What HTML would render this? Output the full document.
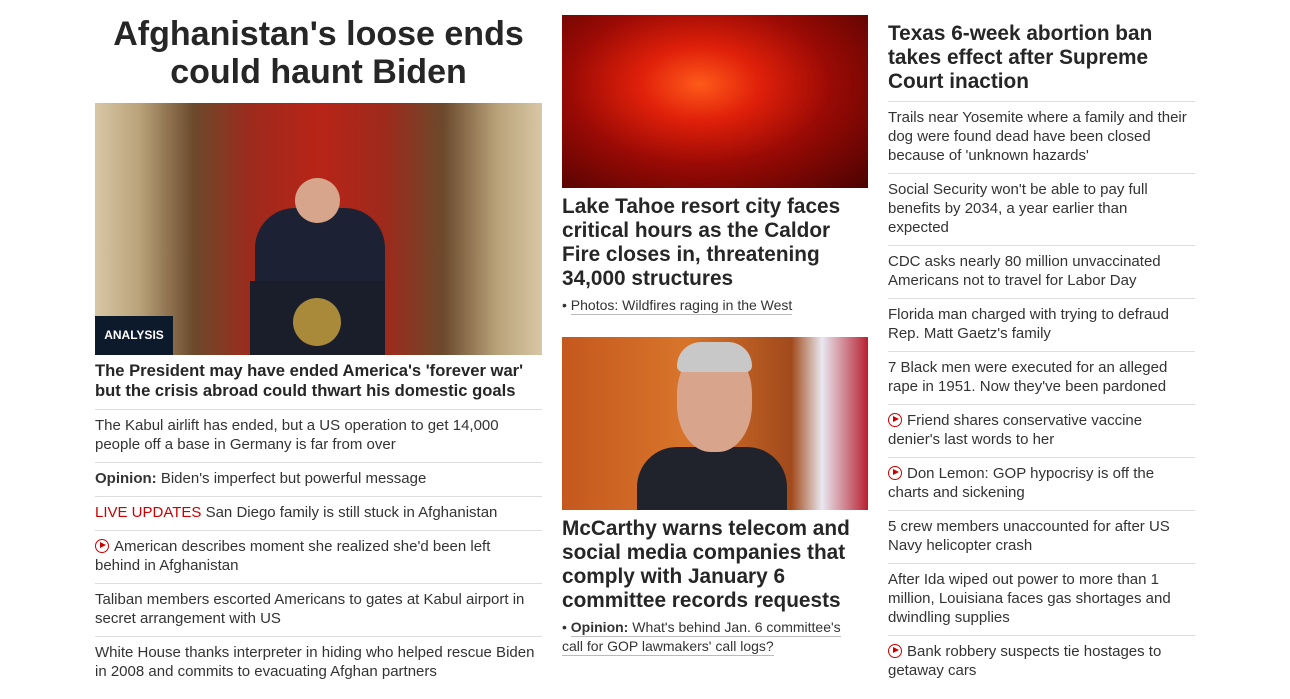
<!DOCTYPE html>
<html><head><meta charset="utf-8"><style>
*{margin:0;padding:0;box-sizing:border-box}
body{width:1290px;height:699px;background:#fff;font-family:"Liberation Sans",sans-serif;color:#262626;position:relative;overflow:hidden}
.a{position:absolute}
.item{position:absolute;font-size:15px;line-height:19px;color:#333;white-space:nowrap}
.sep{position:absolute;height:1px;background:#dedede}
.h{position:absolute;font-weight:bold;font-size:20.8px;line-height:24px;color:#262626;white-space:nowrap}
.play{display:inline-block;width:14px;height:14px;border:1.6px solid #cc0000;border-radius:50%;position:relative;vertical-align:-2px;margin-right:5px}
.play:after{content:"";position:absolute;left:3.5px;top:2px;border-left:6px solid #cc0000;border-top:3.5px solid transparent;border-bottom:3.5px solid transparent}
.u{border-bottom:1px solid #bbb;padding-bottom:1px}
</style></head><body>
<div class="a" style="left:95px;top:15px;width:447px;text-align:center;font-size:34px;font-weight:bold;line-height:38px;color:#262626;white-space:nowrap">Afghanistan's loose ends<br>could haunt Biden</div>
<div class="a" style="left:95px;top:103px;width:447px;height:252px;background:linear-gradient(90deg,#d8c7a5 0,#b9a27a 10%,#6b4a2c 22%,#9d2a1c 35%,#b82418 50%,#9d2a1c 65%,#6b4a2c 78%,#b9a27a 90%,#d8c7a5 100%)">
 <div class="a" style="left:160px;top:105px;width:130px;height:75px;background:#1c2233;border-radius:40px 40px 0 0"></div>
 <div class="a" style="left:200px;top:75px;width:45px;height:45px;background:#d6a58c;border-radius:50%"></div>
 <div class="a" style="left:155px;top:178px;width:135px;height:74px;background:#1a1e2a"></div>
 <div class="a" style="left:198px;top:195px;width:48px;height:48px;border-radius:50%;background:#a88a3a"></div>
</div>
<div class="a" style="left:95px;top:316px;width:78px;height:39px;background:#0c1a2b;color:#fff;font-weight:bold;font-size:12px;line-height:39px;text-align:center">ANALYSIS</div>
<div class="a" style="left:95px;top:361px;width:460px;font-weight:bold;font-size:16.6px;line-height:20px;white-space:nowrap">The President may have ended America's 'forever war'<br>but the crisis abroad could thwart his domestic goals</div>
<div class="sep" style="left:95px;top:409px;width:447px"></div>
<div class="item" style="left:95px;top:416px">The Kabul airlift has ended, but a US operation to get 14,000<br>people off a base in Germany is far from over</div>
<div class="sep" style="left:95px;top:462px;width:447px"></div>
<div class="item" style="left:95px;top:469px"><b>Opinion:</b> Biden's imperfect but powerful message</div>
<div class="sep" style="left:95px;top:496px;width:447px"></div>
<div class="item" style="left:95px;top:503px"><span style="color:#cc0000">LIVE UPDATES</span> San Diego family is still stuck in Afghanistan</div>
<div class="sep" style="left:95px;top:530px;width:447px"></div>
<div class="item" style="left:95px;top:537px"><span class="play"></span>American describes moment she realized she'd been left<br>behind in Afghanistan</div>
<div class="sep" style="left:95px;top:583px;width:447px"></div>
<div class="item" style="left:95px;top:590px">Taliban members escorted Americans to gates at Kabul airport in<br>secret arrangement with US</div>
<div class="sep" style="left:95px;top:636px;width:447px"></div>
<div class="item" style="left:95px;top:643px">White House thanks interpreter in hiding who helped rescue Biden<br>in 2008 and commits to evacuating Afghan partners</div>

<div class="a" style="left:562px;top:15px;width:306px;height:173px;background:radial-gradient(ellipse at 45% 40%,#ff5a1a 0,#e0200a 25%,#9a0a05 55%,#4a0302 100%)"></div>
<div class="h" style="left:562px;top:195px">Lake Tahoe resort city faces<br>critical hours as the Caldor<br>Fire closes in, threatening<br>34,000 structures</div>
<div class="item" style="left:562px;top:296px;font-size:14px">• <span class="u">Photos: Wildfires raging in the West</span></div>
<div class="a" style="left:562px;top:337px;width:306px;height:173px;background:linear-gradient(90deg,#c4581e 0,#d8742a 40%,#a24a1c 75%,#e8e8f0 85%,#b82030 100%)">
 <div class="a" style="left:75px;top:110px;width:150px;height:63px;background:#20232c;border-radius:40px 40px 0 0"></div>
 <div class="a" style="left:115px;top:10px;width:75px;height:105px;background:#d9a48c;border-radius:45%"></div>
 <div class="a" style="left:115px;top:5px;width:75px;height:30px;background:#c8c8c8;border-radius:40px 40px 10px 10px"></div>
</div>
<div class="h" style="left:562px;top:517px">McCarthy warns telecom and<br>social media companies that<br>comply with January 6<br>committee records requests</div>
<div class="item" style="left:562px;top:618px;font-size:14px">• <span class="u"><b>Opinion:</b> What's behind Jan. 6 committee's</span><br><span class="u">call for GOP lawmakers' call logs?</span></div>

<div class="h" style="left:888px;top:22px">Texas 6-week abortion ban<br>takes effect after Supreme<br>Court inaction</div>
<div class="sep" style="left:888px;top:101px;width:307px"></div>
<div class="item" style="left:888px;top:108px">Trails near Yosemite where a family and their<br>dog were found dead have been closed<br>because of 'unknown hazards'</div>
<div class="sep" style="left:888px;top:173px;width:307px"></div>
<div class="item" style="left:888px;top:180px">Social Security won't be able to pay full<br>benefits by 2034, a year earlier than<br>expected</div>
<div class="sep" style="left:888px;top:245px;width:307px"></div>
<div class="item" style="left:888px;top:252px">CDC asks nearly 80 million unvaccinated<br>Americans not to travel for Labor Day</div>
<div class="sep" style="left:888px;top:298px;width:307px"></div>
<div class="item" style="left:888px;top:305px">Florida man charged with trying to defraud<br>Rep. Matt Gaetz's family</div>
<div class="sep" style="left:888px;top:351px;width:307px"></div>
<div class="item" style="left:888px;top:358px">7 Black men were executed for an alleged<br>rape in 1951. Now they've been pardoned</div>
<div class="sep" style="left:888px;top:404px;width:307px"></div>
<div class="item" style="left:888px;top:411px"><span class="play"></span>Friend shares conservative vaccine<br>denier's last words to her</div>
<div class="sep" style="left:888px;top:457px;width:307px"></div>
<div class="item" style="left:888px;top:464px"><span class="play"></span>Don Lemon: GOP hypocrisy is off the<br>charts and sickening</div>
<div class="sep" style="left:888px;top:510px;width:307px"></div>
<div class="item" style="left:888px;top:517px">5 crew members unaccounted for after US<br>Navy helicopter crash</div>
<div class="sep" style="left:888px;top:563px;width:307px"></div>
<div class="item" style="left:888px;top:570px">After Ida wiped out power to more than 1<br>million, Louisiana faces gas shortages and<br>dwindling supplies</div>
<div class="sep" style="left:888px;top:635px;width:307px"></div>
<div class="item" style="left:888px;top:642px"><span class="play"></span>Bank robbery suspects tie hostages to<br>getaway cars</div>
</body></html>
